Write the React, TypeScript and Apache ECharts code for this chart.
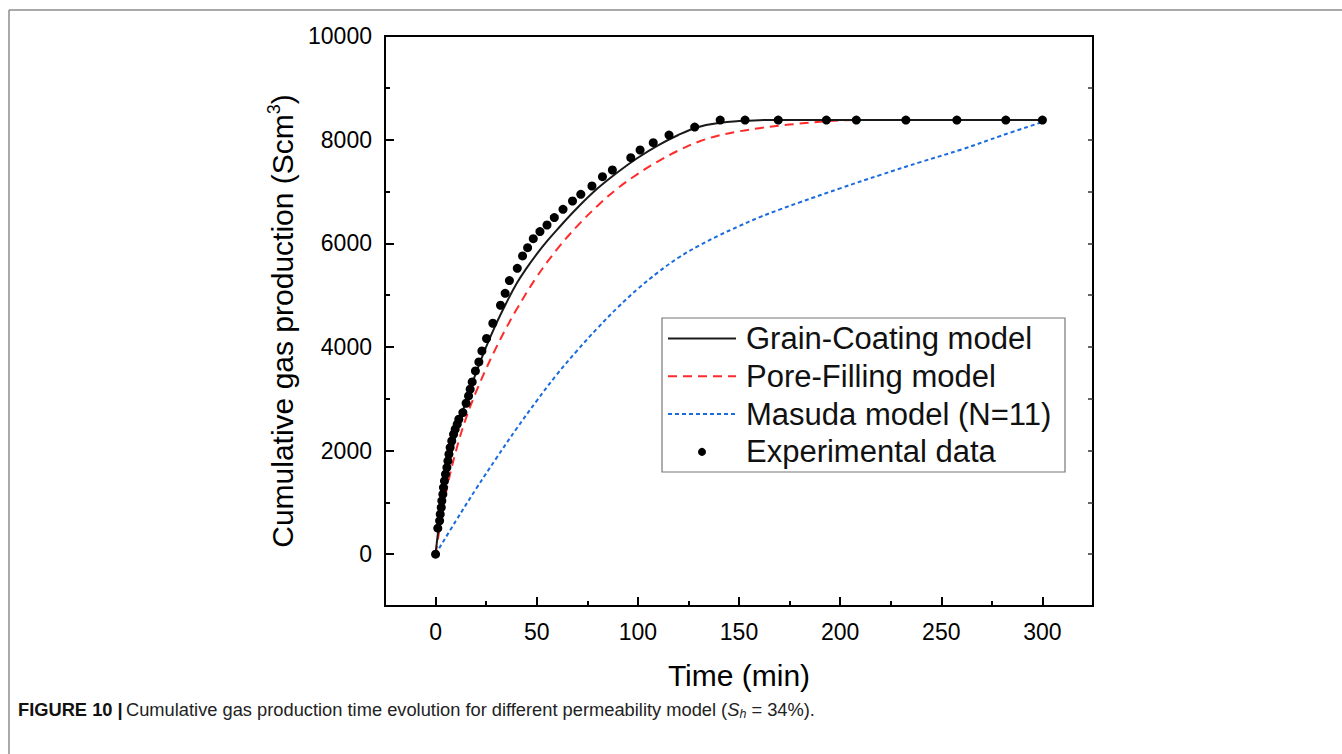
import React, { useEffect, useRef } from 'react';
import * as echarts from 'echarts';

// Experimental data (time in min, cumulative gas in Scm3)
const expTime = [0, 1.1, 2.0, 2.3, 2.8, 3.1, 3.6, 3.9, 4.4, 4.9, 5.6, 6.1, 6.6, 7.2, 8.0, 8.9, 9.7, 10.7, 11.5, 13.5, 15.1, 16.3, 17.1, 18.1, 19.7, 21.4, 22.9, 25.2, 28.3, 32.1, 34.4, 36.5, 40.4, 43.0, 45.5, 48.3, 51.6, 55.1, 58.7, 63.0, 67.7, 71.8, 77.3, 82.5, 87.4, 96.5, 101.1, 107.6, 115.4, 128.1, 140.7, 153.0, 169.4, 193.2, 208.0, 232.5, 257.7, 281.9, 300];
const expGas = [0, 501, 643, 772, 900, 1029, 1157, 1286, 1414, 1543, 1672, 1800, 1929, 2058, 2186, 2315, 2411, 2508, 2604, 2733, 2913, 3054, 3183, 3324, 3537, 3711, 3923, 4162, 4457, 4804, 5035, 5280, 5517, 5755, 5916, 6089, 6225, 6353, 6495, 6655, 6816, 6944, 7105, 7286, 7414, 7652, 7800, 7941, 8089, 8243, 8378, 8378, 8378, 8378, 8378, 8378, 8378, 8378, 8378];

// Grain-Coating model
const gcTime = [0, 2, 5, 10, 15, 20, 25, 30, 35, 40, 45, 50, 55, 60, 70, 80, 90, 100, 110, 120, 130, 140, 150, 160, 170, 200, 250, 300];
const gcGas = [0, 660, 1420, 2300, 2950, 3500, 4000, 4450, 4850, 5220, 5520, 5790, 6035, 6260, 6680, 7055, 7370, 7650, 7890, 8090, 8245, 8320, 8358, 8376, 8380, 8380, 8380, 8380];

// Pore-Filling model
const pfTime = [0, 5, 10, 15, 20, 25, 30, 35, 40, 50, 60, 70, 80, 90, 100, 110, 120, 130, 140, 150, 160, 170, 180, 190, 200, 210, 250, 300];
const pfGas = [0, 1150, 1980, 2620, 3130, 3580, 3990, 4370, 4720, 5350, 5880, 6330, 6720, 7060, 7340, 7580, 7790, 7960, 8080, 8160, 8220, 8270, 8310, 8345, 8370, 8380, 8380, 8380];

// Masuda model (N=11)
const msTime = [0, 10, 20, 30, 40, 50, 60, 70, 80, 90, 100, 110, 120, 130, 140, 150, 160, 170, 180, 200, 220, 240, 260, 280, 300];
const msGas = [0, 640, 1260, 1850, 2420, 2960, 3470, 3930, 4360, 4760, 5120, 5440, 5720, 5950, 6150, 6330, 6500, 6650, 6790, 7060, 7320, 7570, 7810, 8080, 8340];

const xMajorTicks = [0, 50, 100, 150, 200, 250, 300];
const xMinorTicks = [25, 75, 125, 175, 225, 275];
const yMajorTicks = [0, 2000, 4000, 6000, 8000, 10000];
const yMinorTicks = [1000, 3000, 5000, 7000, 9000];
const yAllTicks = [0, 1000, 2000, 3000, 4000, 5000, 6000, 7000, 8000, 9000];

const seriesNames = ['Grain-Coating model', 'Pore-Filling model', 'Masuda model (N=11)', 'Experimental data'];

const FONT = 'Liberation Sans, Arial, Helvetica, sans-serif';

function pair(xs: number[], ys: number[]) {
  return xs.map((x, i) => [x, ys[i]]);
}

export default function App() {
  const ref = useRef<HTMLDivElement>(null);
  useEffect(() => {
    const chart = echarts.init(ref.current!, null, { renderer: 'svg' });
    const tickStyle = { color: '#000', width: 2 };
    const plain = (v: number) => String(v);
    const hiddenSym = { opacity: 0, color: 'rgba(0,0,0,0)', borderWidth: 0 };
    const MAJ = 9;
    const MIN = 5;
    const option: any = {
      animation: false,
      backgroundColor: '#ffffff',
      textStyle: { fontFamily: FONT },
      grid: {
        left: 385, top: 36, width: 708, height: 570,
        show: true, borderColor: '#000', borderWidth: 2, backgroundColor: 'transparent',
      },
      legend: {
        orient: 'vertical',
        left: 667, top: 323,
        padding: 0,
        itemGap: 6.8,
        itemWidth: 68,
        itemHeight: 8,
        data: [
          { name: seriesNames[0], itemStyle: hiddenSym },
          { name: seriesNames[1], itemStyle: hiddenSym },
          { name: seriesNames[2], itemStyle: hiddenSym },
          { name: seriesNames[3] },
        ],
        textStyle: { fontSize: 31, lineHeight: 30, color: '#111', fontFamily: FONT, padding: [0, 0, 0, 5] },
      },
      xAxis: [
        {
          type: 'value', min: -25, max: 325, position: 'bottom', offset: -MAJ,
          name: 'Time (min)', nameLocation: 'middle', nameGap: 54 + MAJ,
          nameTextStyle: { fontSize: 30, color: '#000', fontFamily: FONT },
          axisLine: { show: false, onZero: false },
          axisTick: { show: true, inside: false, length: MAJ, customValues: xMajorTicks, lineStyle: tickStyle },
          axisLabel: { customValues: xMajorTicks, formatter: plain, fontSize: 23, color: '#000', margin: 14 + MAJ, fontFamily: FONT },
          splitLine: { show: false },
        },
        {
          type: 'value', min: -25, max: 325, position: 'bottom', offset: -MIN,
          axisLine: { show: false, onZero: false },
          axisTick: { show: true, inside: false, length: MIN, customValues: xMinorTicks, lineStyle: tickStyle },
          axisLabel: { show: false },
          splitLine: { show: false },
        },
      ],
      yAxis: [
        {
          type: 'value', min: -1000, max: 10000, position: 'left', offset: -MAJ,
          name: '{a|Cumulative gas production (Scm}{s|3}{a|)}',
          nameLocation: 'middle', nameGap: 78 + MAJ,
          nameTextStyle: {
            color: '#000', fontFamily: FONT,
            rich: {
              a: { fontSize: 30, lineHeight: 34, color: '#000', fontFamily: FONT },
              s: { fontSize: 18, lineHeight: 34, verticalAlign: 'top', color: '#000', fontFamily: FONT },
            },
          },
          axisLine: { show: false, onZero: false },
          axisTick: { show: true, inside: false, length: MAJ, customValues: yMajorTicks, lineStyle: tickStyle },
          axisLabel: { customValues: yMajorTicks, formatter: plain, fontSize: 23, color: '#000', margin: 13 + MAJ, fontFamily: FONT },
          splitLine: { show: false },
        },
        {
          type: 'value', min: -1000, max: 10000, position: 'left', offset: -MIN,
          axisLine: { show: false, onZero: false },
          axisTick: { show: true, inside: false, length: MIN, customValues: yMinorTicks, lineStyle: tickStyle },
          axisLabel: { show: false },
          splitLine: { show: false },
        },
        {
          type: 'value', min: -1000, max: 10000, position: 'right', offset: -MIN,
          axisLine: { show: false, onZero: false },
          axisTick: { show: true, inside: false, length: MIN, customValues: yAllTicks, lineStyle: { color: '#333', width: 1.5 } },
          axisLabel: { show: false },
          splitLine: { show: false },
        },
      ],
      series: [
        {
          name: seriesNames[0], type: 'line', data: pair(gcTime, gcGas), smooth: 0.4, symbol: 'none',
          lineStyle: { color: '#1a1a1a', width: 2, type: 'solid' }, itemStyle: { color: '#1a1a1a' }, z: 3,
        },
        {
          name: seriesNames[1], type: 'line', data: pair(pfTime, pfGas), smooth: 0.4, symbol: 'none',
          lineStyle: { color: '#ff2a2a', width: 2, type: [9, 6] }, itemStyle: { color: '#ff2a2a' }, z: 2,
        },
        {
          name: seriesNames[2], type: 'line', data: pair(msTime, msGas), smooth: 0.4, symbol: 'none',
          lineStyle: { color: '#1a6be0', width: 2, type: [4, 3] }, itemStyle: { color: '#1a6be0' }, z: 2,
        },
        {
          name: seriesNames[3], type: 'scatter', data: pair(expTime, expGas), symbol: 'circle', symbolSize: 9,
          itemStyle: { color: '#000', opacity: 1 }, z: 4,
        },
      ],
      graphic: [
        { type: 'line', shape: { x1: 9, y1: 10, x2: 1342, y2: 10 }, style: { stroke: '#8c8c8c', lineWidth: 1.5 }, silent: true },
        { type: 'line', shape: { x1: 9, y1: 10, x2: 9, y2: 754 }, style: { stroke: '#8c8c8c', lineWidth: 1.5 }, silent: true },
        { type: 'rect', shape: { x: 662, y: 318, width: 403, height: 154 }, style: { fill: 'none', stroke: '#777', lineWidth: 1.2 }, z: 1, silent: true },
        {
          type: 'text', x: 18, y: 709, silent: true,
          style: {
            text: '{b|FIGURE 10 |} {n|Cumulative gas production time evolution for different permeability model (}{i|S}{sub|h}{n| = 34%).}',
            verticalAlign: 'middle',
            rich: {
              b: { fontSize: 18.3, fontWeight: 'bold', fill: '#111', fontFamily: FONT, lineHeight: 22 },
              n: { fontSize: 18.3, fill: '#222', fontFamily: FONT, lineHeight: 22 },
              i: { fontSize: 18.3, fontStyle: 'italic', fill: '#222', fontFamily: FONT, lineHeight: 22 },
              sub: { fontSize: 12.5, fontStyle: 'italic', fill: '#222', fontFamily: FONT, lineHeight: 22, verticalAlign: 'bottom' },
            },
          },
        },
      ],
    };
    chart.setOption(option);
    return () => chart.dispose();
  }, []);
  return <div ref={ref} style={{ position: 'fixed', left: 0, top: 0, width: 1342, height: 754, background: '#fff' }} />;
}
